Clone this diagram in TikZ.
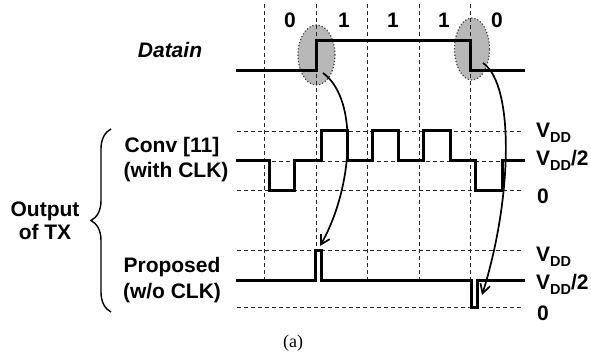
\documentclass[tikz,border=0pt]{standalone}
\usepackage{fontspec}
\setmainfont{Liberation Sans}
\newfontfamily\seriffamilyA{Liberation Serif}
\usetikzlibrary{arrows.meta,decorations.pathreplacing,shapes.geometric}
\newcommand\vddlbl{V\raisebox{-5pt}{\fontsize{14.5}{15}\selectfont DD}}
\begin{document}
\begin{tikzpicture}[x=1pt,y=-1pt,
  wave/.style={line width=3pt, line join=miter, line cap=rect},
  gridln/.style={dash pattern=on 4pt off 3pt, line width=0.8pt, draw=black!85},
  lbl/.style={font=\fontsize{21}{25}\selectfont\bfseries, inner sep=0pt},
  rlbl/.style={font=\fontsize{21}{25}\selectfont\bfseries, inner sep=0pt, anchor=base west},
  hilite/.style={ellipse, draw=black!75, dotted, line width=1.2pt, fill=black!28, inner sep=0pt},
  arr/.style={line width=1.7pt, -{Straight Barb[length=9pt,width=10pt]}}]
\useasboundingbox (0,0) rectangle (591,358);
% highlight ellipses
\node[hilite, minimum width=37pt, minimum height=60pt] (e1) at (316.5,55) {};
\node[hilite, minimum width=35pt, minimum height=62pt] (e2) at (472,49) {};
% vertical grid
\foreach \x in {264,316,367,419,470} \draw[gridln] (\x,4) -- (\x,279);
% horizontal grid
\foreach \y in {131,161,190,250,307} \draw[gridln] (237,\y) -- (524,\y);
% datain
\draw[wave] (237,71) -- (316,71) -- (316,41) -- (470,41) -- (470,71) -- (523,71);
% conventional
\draw[wave] (237,161) -- (269,161) -- (269,190) -- (294,190) -- (294,161) -- (321,161) -- (321,131)
  -- (347,131) -- (347,161) -- (372,161) -- (372,131) -- (398,131) -- (398,161) -- (423,161)
  -- (423,131) -- (450,131) -- (450,161) -- (475,161) -- (475,190) -- (502,190) -- (502,161) -- (523,161);
% proposed
\draw[wave] (237,280) -- (315,280) -- (315,250) -- (321,250) -- (321,280) -- (471,280)
  -- (471,307) -- (477,307) -- (477,280) -- (523,280);
% arrows
\coordinate (a1s) at (323,73);
\coordinate (a1e) at (320,246);
\coordinate (a2s) at (483,63);
\coordinate (a2e) at (482,295);
\draw[arr] (a1s) .. controls (360,100) and (352,190) .. (a1e);
\draw[arr] (a2s) .. controls (515,85) and (512,200) .. (a2e);
% bits
\node[lbl, anchor=base] (b0) at (290,28) {0};
\node[lbl, anchor=base] (b1) at (344,28) {1};
\node[lbl, anchor=base] (b2) at (393,28) {1};
\node[lbl, anchor=base] (b3) at (444,28) {1};
\node[lbl, anchor=base] (b4) at (497,28) {0};
% left labels
\node[lbl, anchor=base, font=\fontsize{21}{25}\selectfont\bfseries\itshape] (din) at (170,58) {Datain};
\node[lbl, anchor=base] (cv1) at (172,153) {Conv [11]};
\node[lbl, anchor=base] (cv2) at (176,178) {(with CLK)};
\node[lbl, anchor=base] (pp1) at (172,272) {Proposed};
\node[lbl, anchor=base] (pp2) at (172,298) {(w/o CLK)};
\node[lbl, anchor=base] (ot1) at (45,216) {Output};
\node[lbl, anchor=base] (ot2) at (45,239) {of TX};
% brace
\coordinate (br1) at (111,312);
\coordinate (br2) at (111,129);
\draw[decorate, decoration={brace, amplitude=20pt}, line width=1.4pt] (br1) -- (br2);
% right labels
\node[rlbl] (v1) at (536,138) {\vddlbl};
\node[rlbl] (v2) at (536,166) {\vddlbl/2};
\node[rlbl] (v3) at (537,203) {0};
\node[rlbl] (v4) at (536,261) {\vddlbl};
\node[rlbl] (v5) at (536,289) {\vddlbl/2};
\node[rlbl] (v6) at (537,320) {0};
% caption
\node[inner sep=0pt, font=\seriffamilyA\fontsize{18}{20}\selectfont] (cap) at (293,343) {(a)};
\end{tikzpicture}
\end{document}
